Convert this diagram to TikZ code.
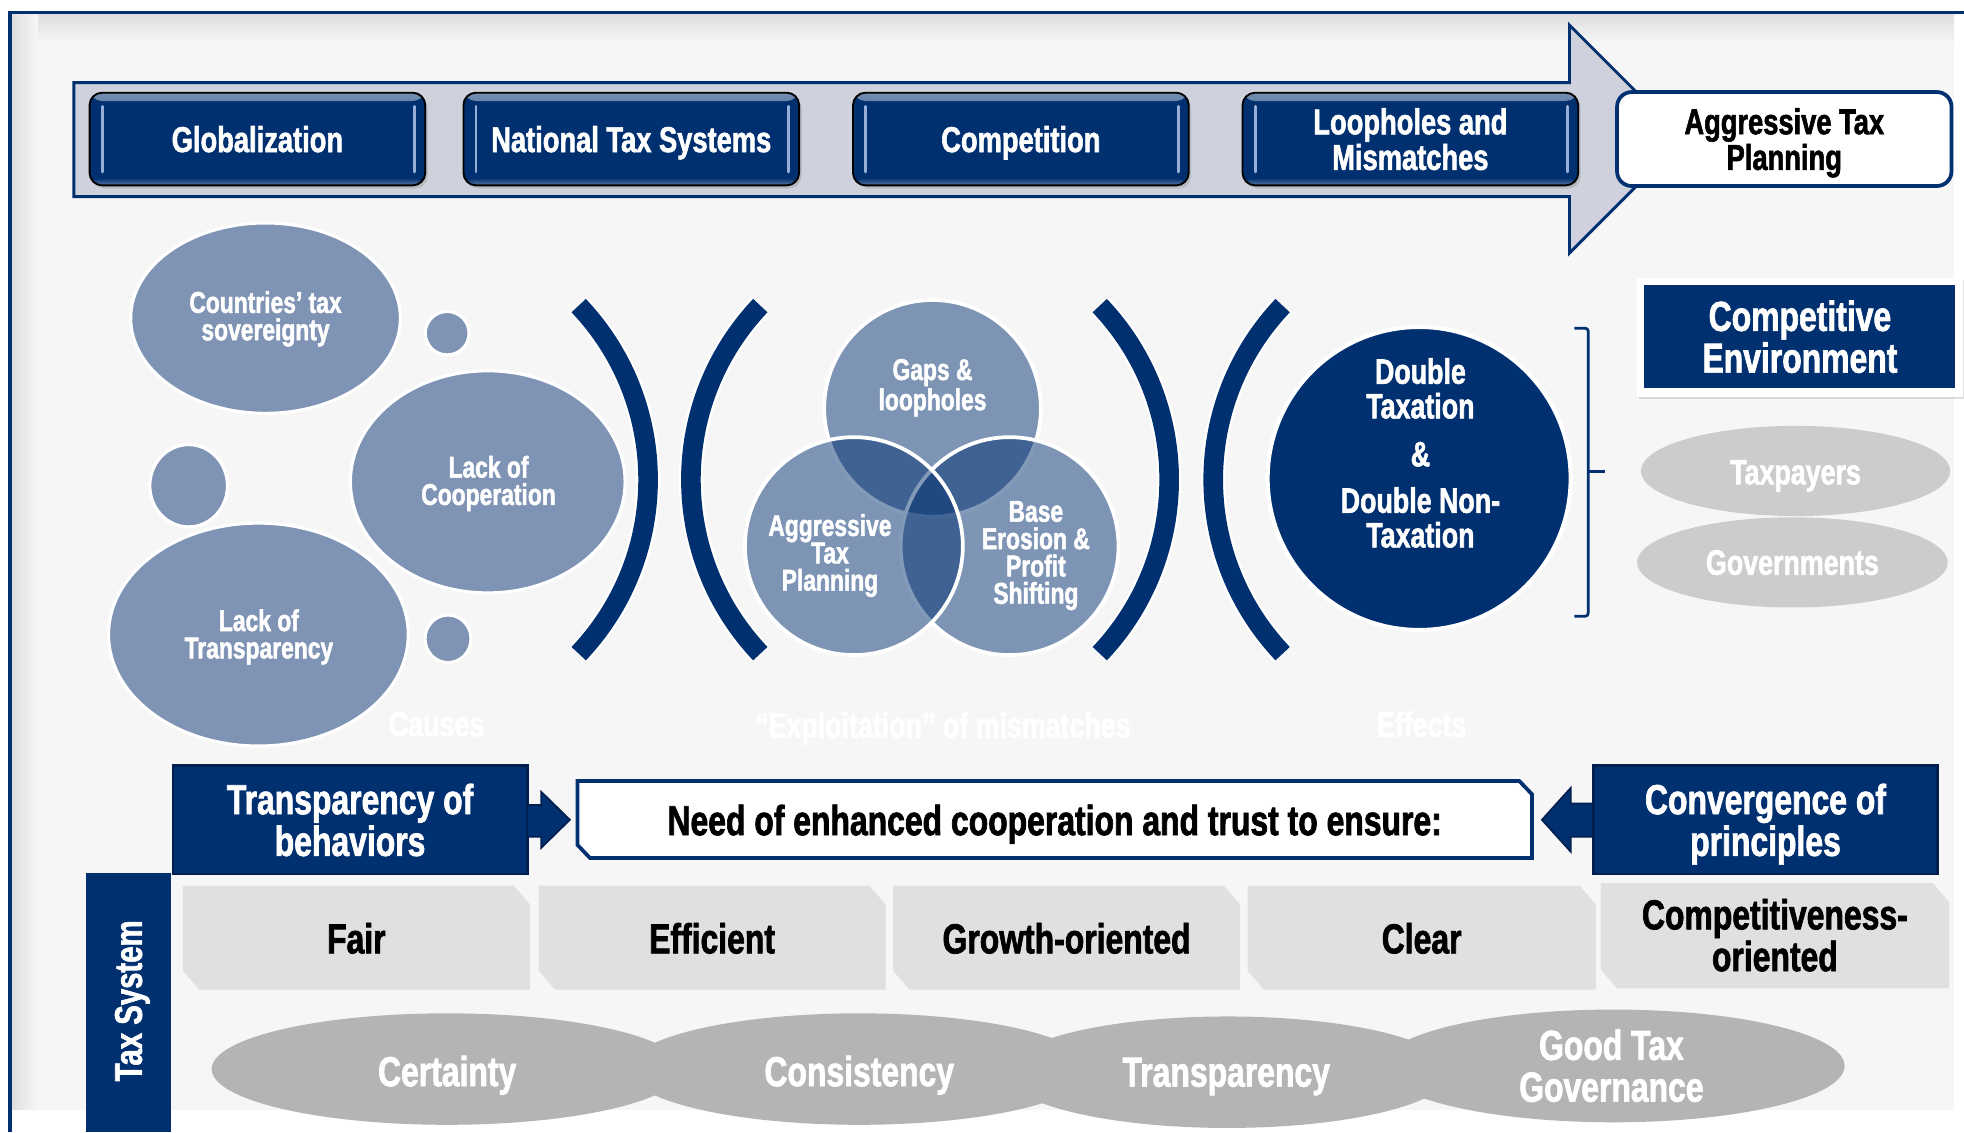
\documentclass[tikz,border=0pt]{standalone}
\usepackage{fontspec}
\newfontfamily\imp{Liberation Sans}[FakeStretch=0.76, BoldFeatures={FakeBold=1.6}]
\usetikzlibrary{shadows}
\definecolor{navy}{RGB}{0,48,112}
\definecolor{navyd}{RGB}{0,30,78}
\definecolor{cblue}{RGB}{127,147,181}
\definecolor{arrowf}{RGB}{207,210,220}
\definecolor{bgc}{RGB}{246,246,246}
\definecolor{gboxc}{RGB}{224,224,224}
\definecolor{gell}{RGB}{180,180,180}
\definecolor{gelltwo}{RGB}{204,204,204}
\definecolor{hlc}{RGB}{150,175,215}
\newcommand\gboxpath[4]{\fill[gboxc] (#1,#3) -- (#2-13,#3) -- (#2,#3+15) -- (#2,#4) -- (#1+13,#4) -- (#1,#4-15) -- cycle;}
\begin{document}
\begin{tikzpicture}[x=0.6pt,y=-0.6pt,
 every node/.style={inner sep=0pt, outer sep=0pt, text depth=0pt},
 fA/.style={font=\imp\bfseries\fontsize{17.2pt}{16pt}\selectfont},
 fB/.style={font=\imp\bfseries\fontsize{14.4pt}{13.1pt}\selectfont},
 fC/.style={font=\imp\bfseries\fontsize{16.9pt}{16.6pt}\selectfont},
 fD/.style={font=\imp\bfseries\fontsize{20.1pt}{20pt}\selectfont},
 btn/.style={draw=black, line width=0.9pt, fill=navy, rounded corners=6pt,
   minimum width=160.8pt, minimum height=44.4pt, text=white, fA, align=center,
   drop shadow={opacity=0.3, shadow xshift=1.2pt, shadow yshift=-1.5pt},
   path picture={
     \shade[top color=navy!55!white, bottom color=navy]
       (path picture bounding box.north west) rectangle ([yshift=-4pt]path picture bounding box.north east);
     \shade[bottom color=navy!65!white, top color=navy]
       (path picture bounding box.south west) rectangle ([yshift=3.5pt]path picture bounding box.south east);
     \draw[hlc, line width=1.4pt, line cap=round]
       ([xshift=6pt,yshift=-6.5pt]path picture bounding box.north west) --
       ([xshift=6pt,yshift=6.5pt]path picture bounding box.south west);
     \draw[hlc, line width=1.4pt, line cap=round]
       ([xshift=-5pt,yshift=-6.5pt]path picture bounding box.north east) --
       ([xshift=-5pt,yshift=6.5pt]path picture bounding box.south east);
   }},
 cause/.style={fill=cblue, draw=white, line width=1.5pt},
 venn/.style={fill=navy, fill opacity=0.49, draw=white, draw opacity=1, line width=1.8pt},
 wt/.style={text=white, align=center},
 nbox/.style={fill=navy, draw=navyd, line width=1.2pt, minimum height=52pt, text=white, fD, align=center},
 blk/.style={fill=navy, draw=navyd, line width=0.8pt}
]
\useasboundingbox (0,0) rectangle (1568,904);
\fill[white] (0,0) rectangle (1568,904);
% background and frame
\fill[bgc] (8,10) rectangle (1560,886);
\shade[top color=black!13, bottom color=bgc] (9,11) rectangle (1560,34);
\shade[left color=black!13, right color=bgc] (9,11) rectangle (30,886);
\draw[navy, line width=1.6pt] (8,904) -- (8,10) -- (1568,10);

% top arrow
\draw[fill=arrowf, draw=navy, line width=1.4pt] (59,66) -- (1253,66) -- (1253,20) -- (1344,111) -- (1253,202) -- (1253,157) -- (59,157) -- cycle;
\node[btn] (glob) at (205.5,111) {Globalization};
\node[btn] (nts) at (504,111) {National Tax Systems};
\node[btn] (comp) at (815,111) {Competition};
\node[btn] (loop) at (1126,111) {Loopholes and\\Mismatches};
\node[draw=navy, line width=1.8pt, fill=white, rounded corners=7pt, minimum width=160.2pt, minimum height=45pt, fA, align=center] (atp) at (1424.5,111) {Aggressive Tax\\Planning};

% causes
\draw[cause] (212,254) ellipse[x radius=64.6pt, y radius=45.6pt];
\draw[cause] (357,266) ellipse[x radius=10.5pt, y radius=10.4pt];
\draw[cause] (389.4,384.7) ellipse[x radius=65.8pt, y radius=53.2pt];
\draw[cause] (150.6,387.8) ellipse[x radius=18.6pt, y radius=19.7pt];
\draw[cause] (206.3,506.6) ellipse[x radius=71.8pt, y radius=53.4pt];
\draw[cause] (357.7,510) ellipse[x radius=11pt, y radius=11.4pt];
\node[wt, fB] (tcts) at (212,252) {Countries’ tax\\sovereignty};
\node[wt, fB] (tcoop) at (390,383.5) {Lack of\\Cooperation};
\node[wt, fB] (ttran) at (206.7,506) {Lack of\\Transparency};

% brackets
\foreach \bx/\sa/\ea in {462/43.5/-43.5, 607/136.5/223.5, 878/43.5/-43.5, 1024/136.5/223.5}{
  \draw[white, line width=11.6pt] (\bx,244) arc[start angle=\sa, end angle=\ea, radius=121.1pt];
  \draw[navy, line width=9.4pt] (\bx,244) arc[start angle=\sa, end angle=\ea, radius=121.1pt];
}

% venn
\draw[venn] (744.5,326) circle[radius=51.9pt];
\draw[venn] (806,436) circle[radius=52.2pt];
\draw[venn] (681.7,436) circle[radius=52.2pt];
\node[wt, fB] (tgaps) at (744.5,307) {Gaps \&\\loopholes};
\node[wt, fB] (tagg) at (662.6,441) {Aggressive\\Tax\\Planning};
\node[wt, fB] (tbeps) at (827,441) {Base\\Erosion \&\\Profit\\Shifting};

% effects
\draw[fill=navy, draw=white, line width=2pt] (1133,382) circle[radius=72.6pt];
\node[wt, fC] (tdt) at (1134,310) {Double\\Taxation};
\node[wt, fC] (tamp) at (1134,362.5) {\&};
\node[wt, fC] (tdnt) at (1134,413) {Double Non-\\Taxation};
\draw[navy, line width=1.3pt, rounded corners=1.5pt] (1257,262) -- (1268,262) -- (1268,492) -- (1257,492);
\draw[navy, line width=1.3pt] (1268,376.6) -- (1281,376.6);

% competitive environment
\node[fill=white, minimum width=156pt, minimum height=56.8pt, drop shadow={opacity=0.25, shadow xshift=1pt, shadow yshift=-1pt}] (cef) at (1437,269.5) {};
\node[fill=navy, minimum width=149pt, minimum height=49.4pt, text=white, fD, align=center] (ce) at (1437,268.7) {Competitive\\Environment};
\fill[gelltwo] (1433.5,376) ellipse[x radius=74.1pt, y radius=21.6pt];
\fill[gelltwo] (1431,449) ellipse[x radius=74.4pt, y radius=21.6pt];
\node[wt, fC] (ttp) at (1433.5,377) {Taxpayers};
\node[wt, fC] (tgov) at (1431,449) {Governments};

% section labels
\node[wt, fC] (causes) at (348.6,578) {Causes};
\node[wt, fC] (exploit) at (752.8,578.6) {“Exploitation” of mismatches};
\node[wt, fC] (effects) at (1135,578) {Effects};

% gray boxes
\gboxpath{146}{423}{707}{790}
\gboxpath{430}{707}{707}{790}
\gboxpath{713}{990}{707}{790}
\gboxpath{996}{1274}{707}{790}
\gboxpath{1278}{1556}{705}{789}
\node[fD] (fair) at (284.5,749) {Fair};
\node[fD] (eff) at (568.5,749) {Efficient};
\node[fD] (grow) at (851.5,749) {Growth-oriented};
\node[fD] (clear) at (1135,749) {Clear};
\node[fD, align=center] (compo) at (1417,746.5) {Competitiveness-\\oriented};

% bottom ellipses
\fill[gell] (357,853.5) ellipse[x radius=112.8pt, y radius=26.7pt];
\fill[gell] (686,853.5) ellipse[x radius=111pt, y radius=26.7pt];
\fill[gell] (980,856) ellipse[x radius=106.8pt, y radius=26.7pt];
\fill[gell] (1288,851) ellipse[x radius=110.8pt, y radius=27pt];
\node[wt, fD] (tcert) at (357,855) {Certainty};
\node[wt, fD] (tcons) at (686,855) {Consistency};
\node[wt, fD] (ttrans) at (979,856) {Transparency};
\node[wt, fD] (tgood) at (1286.5,850.7) {Good Tax\\Governance};

% tax system bar
\fill[navy] (69,697) rectangle (136.5,904);
\node[rotate=90, text=white, font=\imp\bfseries\fontsize{18.5pt}{20pt}\selectfont] (tsys) at (102.5,799) {Tax System};

% cooperation row
\node[nbox, minimum width=169.8pt] (tob) at (279.5,654.5) {Transparency of\\behaviors};
\draw[blk] (421.5,642.7) -- (432,642.7) -- (432,632) -- (455,654.5) -- (432,677) -- (432,668) -- (421.5,668);
\draw[fill=white, draw=navy, line width=1.8pt] (461,623.6) -- (1213,623.6) -- (1223,634) -- (1223,685) -- (471,685) -- (461,674.5) -- cycle;
\node[fD] (needt) at (842,654.6) {Need of enhanced cooperation and trust to ensure:};
\draw[blk] (1272,641.5) -- (1254,641.5) -- (1254,629) -- (1231,654.5) -- (1254,680) -- (1254,668) -- (1272,668);
\node[nbox, minimum width=165pt] (conv) at (1409.5,654.5) {Convergence of\\principles};
\end{tikzpicture}
\end{document}
